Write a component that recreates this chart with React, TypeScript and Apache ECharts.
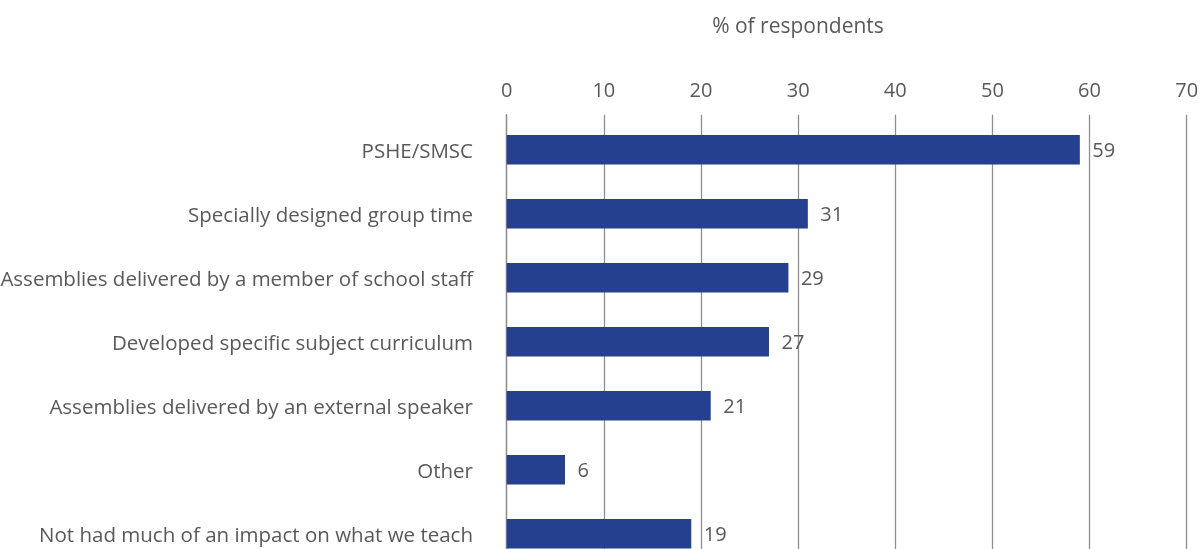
import React, { useEffect, useRef } from "react";
import * as echarts from "echarts";

const categories = [
  "PSHE/SMSC",
  "Specially designed group time",
  "Assemblies delivered by a member of school staff",
  "Developed specific subject curriculum",
  "Assemblies delivered by an external speaker",
  "Other",
  "Not had much of an impact on what we teach",
];
const values = [59, 31, 29, 27, 21, 6, 19];
const axisTitle = "% of respondents";
const xMin = 0;
const xMax = 70;
const xStep = 10;

const FONT = "'Open Sans', sans-serif";
const TEXT = "#58595b";
const BAR = "#25408f";
const GRID = "#8e8e8e";

export default function App() {
  const ref = useRef<HTMLDivElement>(null);
  useEffect(() => {
    if (!ref.current) return;
    const chart = echarts.init(ref.current, undefined, { renderer: "svg" });
    const left = 506.7;
    const right = 1201 - 1186.7;
    const bottom = 549 - 565.7;
    chart.setOption({
      animation: false,
      textStyle: { fontFamily: FONT },
      graphic: [
        {
          type: "text",
          x: 798,
          y: 25,
          style: {
            text: axisTitle,
            fill: TEXT,
            font: `21px ${FONT}`,
            textAlign: "center",
            textVerticalAlign: "middle",
          },
        },
      ],
      grid: [
        { left, right, top: 114.7, bottom, containLabel: false, outerBoundsMode: "none" },
        { left, right, top: 117.7, bottom, containLabel: false, outerBoundsMode: "none" },
      ],
      xAxis: [
        {
          gridIndex: 0,
          type: "value",
          position: "top",
          min: xMin,
          max: xMax,
          interval: xStep,
          axisLine: { show: true, lineStyle: { color: GRID, width: 1.3 } },
          axisTick: { show: false },
          axisLabel: {
            color: TEXT,
            fontSize: 20,
            fontFamily: FONT,
            margin: 15,
            lineHeight: 20,
          },
          splitLine: { show: true, lineStyle: { color: GRID, width: 1.3 } },
        },
        {
          gridIndex: 1,
          type: "value",
          min: xMin,
          max: xMax,
          interval: xStep,
          show: false,
        },
      ],
      yAxis: [
        {
          gridIndex: 0,
          type: "value",
          min: 0,
          max: 1,
          axisLine: { show: true, lineStyle: { color: GRID, width: 1.3 } },
          axisTick: { show: false },
          axisLabel: { show: false },
          splitLine: { show: false },
        },
        {
          gridIndex: 1,
          type: "category",
          data: categories,
          inverse: true,
          axisLine: { show: false },
          axisTick: { show: false },
          axisLabel: {
            color: TEXT,
            fontSize: 20.5,
            fontFamily: FONT,
            margin: 33.7,
          },
        },
      ],
      series: [
        {
          type: "bar",
          xAxisIndex: 1,
          yAxisIndex: 1,
          data: values,
          barWidth: 29.5,
          itemStyle: { color: BAR },
          label: {
            show: true,
            position: "right",
            distance: 12.5,
            color: TEXT,
            fontSize: 20,
            fontFamily: FONT,
          },
        },
      ],
    });
    return () => chart.dispose();
  }, []);
  return (
    <div
      ref={ref}
      style={{ position: "fixed", left: 0, top: 0, width: 1201, height: 549 }}
    />
  );
}
